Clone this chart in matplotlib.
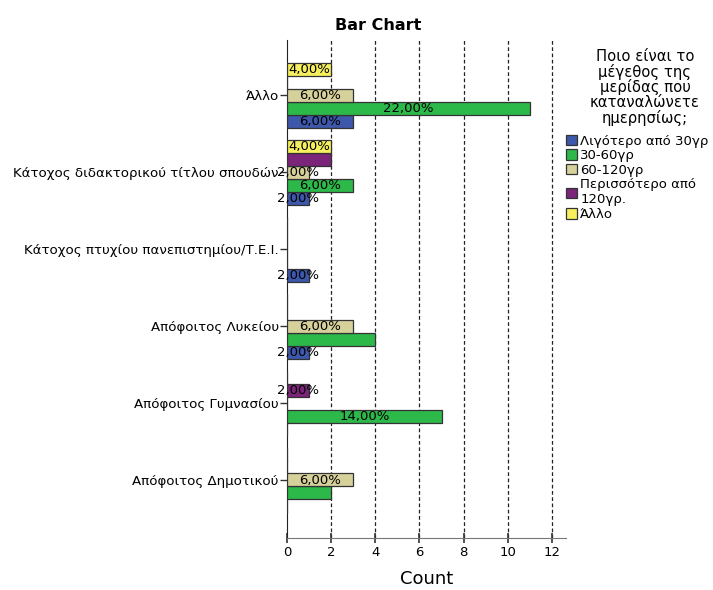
import matplotlib
matplotlib.use("Agg")
import matplotlib.pyplot as plt
import numpy as np
from matplotlib.patches import Patch

# Education level categories (top to bottom)
categories = [
    "Άλλο",
    "Κάτοχος διδακτορικού τίτλου σπουδών",
    "Κάτοχος πτυχίου πανεπιστημίου/Τ.Ε.Ι.",
    "Απόφοιτος Λυκείου",
    "Απόφοιτος Γυμνασίου",
    "Απόφοιτος Δημοτικού",
]

# Portion size series
series_names = ["Λιγότερο από 30γρ", "30-60γρ", "60-120γρ", "Περισσότερο από\n120γρ.", "Άλλο"]
series_colors = ["#3d57ab", "#2db84a", "#d6d09a", "#7b2479", "#f7f05e"]

less30 = [3, 1, 1, 1, 0, 0]
g30_60 = [11, 3, 0, 4, 7, 2]
g60_120 = [3, 1, 0, 3, 0, 3]
more120 = [0, 2, 0, 0, 1, 0]
other = [2, 2, 0, 0, 0, 0]

# Which bar labels are displayed (per series, per category)
show_less30 = [1, 1, 1, 1, 0, 0]
show_g30_60 = [1, 1, 0, 0, 1, 0]
show_g60_120 = [1, 1, 0, 1, 0, 1]
show_more120 = [0, 0, 0, 0, 1, 0]
show_other = [1, 1, 0, 0, 0, 0]

total = 50
x_ticks = [0, 2, 4, 6, 8, 10, 12]

series = [less30, g30_60, g60_120, more120, other]
shows = [show_less30, show_g30_60, show_g60_120, show_more120, show_other]

plt.rcParams["font.family"] = ["DejaVu Sans"]

fig = plt.figure(figsize=(7.13, 5.90), dpi=100)
ax = fig.add_axes([287 / 713, 1 - 538 / 590, (566 - 287) / 713, (538 - 40) / 590])

n_cat = len(categories)
ypos = np.arange(n_cat)[::-1]  # top category highest
slot = 13 / 77.0
offsets = (np.arange(len(series)) - 2) * slot

for i, (vals, show, color) in enumerate(zip(series, shows, series_colors)):
    y = ypos + offsets[i]
    ax.barh(y, vals, height=slot, color=color, edgecolor="#333333", linewidth=0.9, zorder=3)
    for yy, v, s in zip(y, vals, show):
        if v > 0 and s:
            pct = f"{v / total * 100:.2f}%".replace(".", ",")
            ax.text(v / 2, yy - 0.01, pct, ha="center", va="center", fontsize=9.5,
                    color="black", zorder=4, clip_on=False)

ax.set_xlim(0, (566 - 287) / 22.08)
ax.set_ylim(-58 / 77, 5 + 55 / 77)
ax.set_xticks(x_ticks)
ax.set_xticklabels([str(t) for t in x_ticks], fontsize=9.5)
ax.set_yticks(ypos)
ax.set_yticklabels(categories, fontsize=9.6)

for t in x_ticks[1:]:
    ax.axvline(t, color="#222222", linestyle=(0, (3, 2)), linewidth=0.9, zorder=1)

for s in ["top", "right"]:
    ax.spines[s].set_visible(False)
ax.spines["left"].set_color("#222222")
ax.spines["bottom"].set_color("#777777")
ax.tick_params(axis="y", length=5, width=1, color="#333333", pad=1)
ax.tick_params(axis="x", direction="inout", length=7, width=1.2, color="#333333", pad=2)

ax.set_xlabel("Count", fontsize=13, labelpad=8)
fig.text(378 / 713, 1 - 25 / 590, "Bar Chart", ha="center", va="center",
         fontsize=11.5, fontweight="bold")

# Legend title and entries
fig.text(645 / 713, 1 - 49 / 590,
         "Ποιο είναι το\nμέγεθος της\nμερίδας που\nκαταναλώνετε\nημερησίως;",
         ha="center", va="top", fontsize=10.6, linespacing=0.98, multialignment="center")

handles = [Patch(facecolor=c, edgecolor="#333333", linewidth=0.9) for c in series_colors]
leg = fig.legend(handles, series_names, loc="upper left", bbox_to_anchor=(563 / 713, 1 - 132 / 590),
                 fontsize=9.5, frameon=False, handlelength=0.85,
                 handleheight=0.85, handletextpad=0.25, labelspacing=0.12, borderaxespad=0,
                 borderpad=0.2)

fig.savefig("out.png", dpi=100)
